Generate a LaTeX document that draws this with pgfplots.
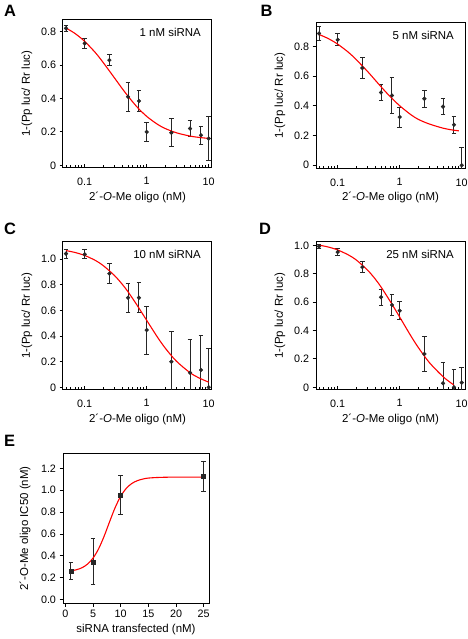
\documentclass[border=0pt]{standalone}
\usepackage{fontspec}
\setmainfont{Liberation Sans}
\usepackage{pgfplots}
\pgfplotsset{compat=1.18}
\usepackage{pgfplotstable}

\pgfplotstableread{
x y e
0.05 0.820 0.020
0.1 0.730 0.030
0.25 0.630 0.035
0.5 0.410 0.085
0.75 0.385 0.065
1 0.200 0.055
2.5 0.195 0.085
5 0.220 0.050
7.5 0.180 0.055
10 0.160 0.130
}\dataA
\pgfplotstableread{
x y e
0.05 0.888 0.047
0.1 0.845 0.040
0.25 0.655 0.070
0.5 0.490 0.055
0.75 0.470 0.120
1 0.325 0.067
2.5 0.448 0.056
5 0.395 0.053
7.5 0.273 0.058
10 0.000 0.120
}\dataB
\pgfplotstableread{
x y e
0.05 1.044 0.034
0.1 1.039 0.035
0.25 0.888 0.080
0.5 0.700 0.115
0.75 0.700 0.117
1 0.447 0.188
2.5 0.200 0.240
5 0.114 0.260
7.5 0.135 0.270
10 0.000 0.300
}\dataC
\pgfplotstableread{
x y e
0.05 0.993 0.015
0.1 0.953 0.022
0.25 0.847 0.040
0.5 0.635 0.055
0.75 0.580 0.077
1 0.540 0.062
2.5 0.235 0.125
5 0.028 0.145
7.5 0.000 0.125
10 0.033 0.110
}\dataD
\pgfplotstableread{
x y e
1 0.263 0.076
5 0.345 0.210
10 0.956 0.177
25 1.124 0.137
}\dataE

\pgfplotsset{
  panel/.style={
    scale only axis, anchor=south west,
    axis line style={line width=1bp},
    tick style={black, line width=0.9bp},
    major tick length=3.5bp, minor tick length=2.5bp,
    xtick pos=bottom, ytick pos=left,
    tick label style={font=\fontsize{10.8}{12}\selectfont, black},
    label style={font=\fontsize{11.5}{13}\selectfont},
  },
  logpanel/.style={panel,
    width=149bp, height=148bp,
    xmin=0.0447, xmax=11.3,
    xtick={0.1,1,10}, xticklabels={0.1,1,10},
    minor xtick={0.05,0.06,0.07,0.08,0.09,0.2,0.3,0.4,0.5,0.6,0.7,0.8,0.9,2,3,4,5,6,7,8,9},
    xtick align=inside, ytick align=outside,
    xticklabel style={yshift=-6bp},
    xlabel={2´-\textit{O}-Me oligo (nM)},
    ylabel={1-(Pp luc/ Rr luc)},
    xlabel style={at={(axis description cs:0.5,-0.196)}, anchor=center},
    ylabel style={at={(axis description cs:-0.242,0.5)}, anchor=center},
  },
  pts/.style={only marks, mark=*, mark size=1.9bp, black!85,
    error bars/y dir=both, error bars/y explicit,
    error bars/error bar style={line width=0.95bp, black!85},
    error bars/error mark=-,
    error bars/error mark options={rotate=90, line width=0.9bp, black!85, mark size=2.3bp}},
  fitcurve/.style={red, line width=1.1bp, no marks, smooth},
}
\tikzset{
  ann/.style={anchor=north east, inner sep=0pt, xshift=-11bp, yshift=-8.5bp, font=\fontsize{11.5}{13}\selectfont},
  letter/.style={anchor=north west, inner sep=0pt, font=\fontsize{16.5}{17}\selectfont\bfseries},
}

\begin{document}
\begin{tikzpicture}
\useasboundingbox (0,0) rectangle (468bp,639bp);

% A
\begin{axis}[xmode=log, logpanel, at={(63bp,471bp)}, ymin=-0.016, ymax=0.870,
  ytick={0,0.2,0.4,0.6,0.8}, yticklabels={0,0.2,0.4,0.6,0.8}]
\addplot[pts] table[x=x,y=y,y error=e]{\dataA};
\addplot[fitcurve] coordinates {(0.05,0.822) (0.07,0.789) (0.1,0.742) (0.15,0.673) (0.2,0.614) (0.3,0.525) (0.4,0.461) (0.5,0.414) (0.7,0.349) (1,0.293) (1.5,0.245) (2,0.220) (3,0.195) (5,0.175) (7,0.167) (10,0.161)};
\node[ann] at (rel axis cs:1,1) {1 nM siRNA};
\end{axis}

% B
\begin{axis}[xmode=log, logpanel, at={(316bp,470bp)}, height=147bp, ymin=-0.025, ymax=0.965,
  ytick={0,0.2,0.4,0.6,0.8}, yticklabels={0,0.2,0.4,0.6,0.8}]
\addplot[pts] table[x=x,y=y,y error=e]{\dataB};
\addplot[fitcurve] coordinates {(0.05,0.881) (0.07,0.854) (0.1,0.816) (0.15,0.760) (0.2,0.711) (0.3,0.634) (0.4,0.575) (0.5,0.529) (0.7,0.463) (1,0.401) (1.5,0.342) (2,0.309) (3,0.278) (5,0.250) (7,0.238) (9,0.232)};
\node[ann] at (rel axis cs:1,1) {5 nM siRNA};
\end{axis}

% C
\begin{axis}[xmode=log, logpanel, at={(63bp,249bp)}, ymin=-0.021, ymax=1.135,
  ytick={0,0.2,0.4,0.6,0.8,1.0}, yticklabels={0,0.2,0.4,0.6,0.8,1.0}]
\addplot[pts] table[x=x,y=y,y error=e]{\dataC};
\addplot[fitcurve] coordinates {(0.05,1.068) (0.07,1.053) (0.1,1.030) (0.15,0.990) (0.2,0.950) (0.3,0.875) (0.4,0.807) (0.5,0.746) (0.7,0.641) (1,0.523) (1.5,0.390) (2,0.305) (3,0.205) (5,0.114) (7,0.073) (10,0.040)};
\node[ann] at (rel axis cs:1,1) {10 nM siRNA};
\end{axis}

% D
\begin{axis}[xmode=log, logpanel, at={(316bp,249bp)}, ymin=-0.019, ymax=1.024,
  ytick={0,0.2,0.4,0.6,0.8,1.0}, yticklabels={0,0.2,0.4,0.6,0.8,1.0}]
\addplot[pts] table[x=x,y=y,y error=e]{\dataD};
\addplot[fitcurve] coordinates {(0.05,1.002) (0.07,0.989) (0.1,0.968) (0.15,0.932) (0.2,0.897) (0.3,0.828) (0.4,0.765) (0.5,0.707) (0.7,0.607) (1,0.495) (1.5,0.365) (2,0.280) (3,0.175) (5,0.075) (7,0.025) (7.5,0.016)};
\node[ann] at (rel axis cs:1,1) {25 nM siRNA};
\end{axis}

% E
\begin{axis}[panel, at={(63bp,36bp)}, width=146bp, height=149bp,
  xmin=-0.42, xmax=25.96, ymin=-0.031, ymax=1.331,
  tick align=outside,
  xtick={0,5,10,15,20,25}, xticklabels={0,5,10,15,20,25},
  ytick={0,0.2,0.4,0.6,0.8,1.0,1.2}, yticklabels={0.0,0.2,0.4,0.6,0.8,1.0,1.2},
  xlabel={siRNA transfected (nM)},
  ylabel={2´-O-Me oligo IC50 (nM)},
  xlabel style={at={(axis description cs:0.5,-0.175)}, anchor=center},
  ylabel style={at={(axis description cs:-0.26,0.5)}, anchor=center}]
\addplot[pts, mark=square*, mark size=2bp] table[x=x,y=y,y error=e]{\dataE};
\addplot[fitcurve] coordinates {(1,0.262) (2,0.273) (3,0.291) (4,0.324) (5,0.379) (6,0.463) (7,0.578) (8,0.712) (9,0.841) (10,0.944) (11,1.016) (12,1.061) (13,1.087) (14,1.102) (15,1.111) (17,1.117) (20,1.120) (25,1.120)};
\end{axis}

\node[letter] at (4bp,634bp) {A};
\node[letter] at (260.5bp,634bp) {B};
\node[letter] at (4bp,415.7bp) {C};
\node[letter] at (259bp,415.7bp) {D};
\node[letter] at (4bp,204bp) {E};
\end{tikzpicture}
\end{document}
